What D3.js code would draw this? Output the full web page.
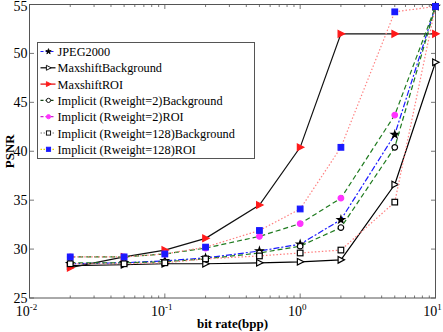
<!DOCTYPE html>
<html>
<head>
<meta charset="utf-8">
<script src="https://cdn.jsdelivr.net/npm/d3@7"></script>
<style>
  body { margin: 0; background: #fff; }
  svg { display: block; font-family: "Liberation Serif", "Times New Roman", serif; }
</style>
</head>
<body>
<svg id="chart" width="443" height="332"></svg>
<script>
// bit rates (bpp) shared by every curve
const rates = [0.02, 0.05, 0.1, 0.2, 0.5, 1, 2, 5, 10];

// PSNR values
const jpeg2000     = [28.5, 28.6, 28.8, 29.1, 29.8, 30.5, 33.0, 41.7, 54.8];
const maxshiftBg   = [28.3, 28.4, 28.5, 28.5, 28.6, 28.7, 28.9, 36.6, 49.1];
const maxshiftRoi  = [28.1, 29.2, 29.9, 31.1, 34.5, 40.4, 52.0, 52.0, 52.0];
const implicit2Bg  = [28.6, 28.6, 28.7, 29.0, 29.6, 30.3, 32.2, 40.4, 54.8];
const implicit2Roi = [29.2, 29.2, 29.5, 30.1, 31.3, 32.6, 35.2, 43.7, 54.8];
const implicit128Bg  = [28.5, 28.5, 28.6, 29.0, 29.3, 29.6, 29.9, 34.8, 54.8];
const implicit128Roi = [29.2, 29.2, 29.5, 30.2, 31.9, 34.1, 40.4, 54.25, 54.8];

const seriesNames = [
  'JPEG2000',
  'MaxshiftBackground',
  'MaxshiftROI',
  'Implicit (Rweight=2)Background',
  'Implicit (Rweight=2)ROI',
  'Implicit (Rweight=128)Background',
  'Implicit (Rweight=128)ROI'
];
const seriesValues = [jpeg2000, maxshiftBg, maxshiftRoi, implicit2Bg, implicit2Roi, implicit128Bg, implicit128Roi];

const yTicks = [25, 30, 35, 40, 45, 50, 55];
const xTicks = [0.01, 0.1, 1, 10];
const xTickExp = ['-2', '-1', '0', '1'];

// line / marker styles per series (same order as the names)
const styles = [
  { line: '#1a1aff', legendLine: '#1a1aff', dash: '6,2,2,2', marker: 'star', fill: '#000', stroke: '#000' },
  { line: '#000', legendLine: '#000', dash: null, marker: 'tri', fill: '#fff', stroke: '#000' },
  { line: '#111', legendLine: '#e00000', dash: null, marker: 'tri', fill: '#ff1a1a', stroke: '#ff1a1a' },
  { line: '#1e7a1e', legendLine: '#114411', dash: '5,3', marker: 'circle', fill: '#fff', stroke: '#000' },
  { line: '#1e7a1e', legendLine: '#cc22cc', dash: '5,3', marker: 'circle', fill: '#ff33ff', stroke: '#ff33ff' },
  { line: '#ff8080', legendLine: '#777', dash: '1.5,2', marker: 'square', fill: '#fff', stroke: '#000' },
  { line: '#ff8080', legendLine: '#e6d200', dash: '1.5,2', marker: 'square', fill: '#1a1aff', stroke: '#1a1aff' }
];

const margin = { top: 4.5, right: 7.5, bottom: 34, left: 29.5 };
const width = 443 - margin.left - margin.right;
const height = 332 - margin.top - margin.bottom;

const svg = d3.select('#chart');
const g = svg.append('g').attr('transform', `translate(${margin.left},${margin.top})`);

const x = d3.scaleLog().domain([0.01, 10]).range([0, width]);
const y = d3.scaleLinear().domain([25, 55]).range([height, 0]);

// frame
g.append('rect')
  .attr('width', width).attr('height', height)
  .attr('fill', 'none').attr('stroke', '#555').attr('stroke-width', 1);

// minor + major x ticks (inward, top and bottom)
const minor = [];
[0.01, 0.1, 1].forEach(d => { for (let k = 2; k <= 9; k++) minor.push(d * k); });
const tickG = g.append('g').attr('stroke', '#555').attr('stroke-width', 0.8);
minor.forEach(v => {
  tickG.append('line').attr('x1', x(v)).attr('x2', x(v)).attr('y1', height).attr('y2', height - 2.5);
  tickG.append('line').attr('x1', x(v)).attr('x2', x(v)).attr('y1', 0).attr('y2', 2.5);
});
xTicks.forEach(v => {
  tickG.append('line').attr('x1', x(v)).attr('x2', x(v)).attr('y1', height).attr('y2', height - 4.5);
  tickG.append('line').attr('x1', x(v)).attr('x2', x(v)).attr('y1', 0).attr('y2', 4.5);
});
yTicks.forEach(v => {
  tickG.append('line').attr('x1', 0).attr('x2', 4.5).attr('y1', y(v)).attr('y2', y(v));
  tickG.append('line').attr('x1', width).attr('x2', width - 4.5).attr('y1', y(v)).attr('y2', y(v));
});

// y tick labels (top one nudged down so it stays inside the page)
g.selectAll('.ylab')
  .data(yTicks)
  .enter()
  .append('text')
  .attr('x', -2)
  .attr('y', d => Math.max(y(d) + 4.5, 6))
  .attr('text-anchor', 'end')
  .style('font-size', '14px')
  .text(d => d);

// x tick labels with superscript
xTicks.forEach((v, i) => {
  const t = g.append('text')
    .attr('x', x(v) - 3)
    .attr('y', height + 18)
    .attr('text-anchor', 'middle')
    .style('font-size', '14px');
  t.append('tspan').text('10');
  t.append('tspan').attr('dy', -6).style('font-size', '9px').text(xTickExp[i]);
});

// axis titles
svg.append('text')
  .attr('x', margin.left + width / 2)
  .attr('y', 328)
  .attr('text-anchor', 'middle')
  .style('font-size', '13px').style('font-weight', 'bold')
  .text('bit rate(bpp)');

svg.append('text')
  .attr('transform', `translate(14,${margin.top + height / 2}) rotate(-90)`)
  .attr('text-anchor', 'middle')
  .style('font-size', '13px').style('font-weight', 'bold')
  .text('PSNR');

// marker drawing helper (k scales the marker, used smaller in the legend)
function drawMarker(sel, type, s, k = 1) {
  if (type === 'square') {
    sel.append('rect').attr('x', -2.8 * k).attr('y', -2.8 * k).attr('width', 5.6 * k).attr('height', 5.6 * k);
  } else if (type === 'circle') {
    sel.append('circle').attr('r', 2.8 * k);
  } else if (type === 'tri') {
    sel.append('path').attr('d', `M${-2.8 * k},${-3.3 * k}L${3.6 * k},0L${-2.8 * k},${3.3 * k}Z`);
  } else {
    sel.append('path').attr('d', d3.symbol(d3.symbolStar, 16 * k * k)());
  }
  sel.selectAll('*')
    .attr('fill', s.fill)
    .attr('stroke', s.stroke)
    .attr('stroke-width', 1.2 * k);
}

const line = d3.line().x(d => x(d[0])).y(d => y(d[1]));

// draw series
seriesValues.forEach((vals, i) => {
  const s = styles[i];
  const pts = rates.map((r, j) => [r, vals[j]]);
  g.append('path')
    .datum(pts)
    .attr('d', line)
    .attr('fill', 'none')
    .attr('stroke', s.line)
    .attr('stroke-width', 1.2)
    .attr('stroke-dasharray', s.dash);
  pts.forEach(p => {
    const m = g.append('g').attr('transform', `translate(${x(p[0])},${y(p[1])})`);
    drawMarker(m, s.marker, s);
  });
});

// legend
const legend = g.append('g').attr('transform', 'translate(8,38)');
legend.append('rect')
  .attr('width', 217).attr('height', 116)
  .attr('fill', '#fff').attr('stroke', '#555').attr('stroke-width', 1);

seriesNames.forEach((name, i) => {
  const s = styles[i];
  const row = legend.append('g').attr('transform', `translate(0,${9 + i * 16.3})`);
  row.append('line')
    .attr('x1', 3).attr('x2', 18).attr('y1', 0).attr('y2', 0)
    .attr('stroke', s.legendLine).attr('stroke-width', 1.2)
    .attr('stroke-dasharray', s.dash ? (s.dash.startsWith('1.5') ? '1.5,1.5' : '3,2') : null);
  const m = row.append('g').attr('transform', 'translate(11,0)');
  drawMarker(m, s.marker, s, 0.75);
  row.append('text')
    .attr('x', 20)
    .attr('y', 4.5)
    .style('font-size', '12.3px')
    .text(name);
});
</script>
</body>
</html>
